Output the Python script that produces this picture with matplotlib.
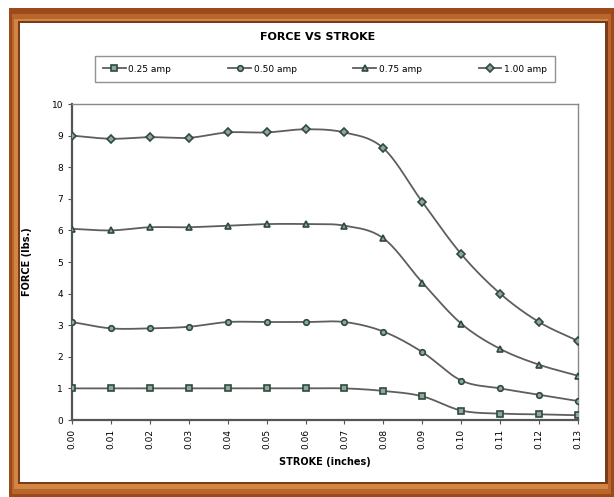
import numpy as np
import matplotlib
matplotlib.use("Agg")
import matplotlib.pyplot as plt
from matplotlib.patches import Rectangle

stroke = [0.00, 0.01, 0.02, 0.03, 0.04, 0.05, 0.06, 0.07, 0.08, 0.09, 0.10, 0.11, 0.12, 0.13]
amp_025 = [1.0, 1.0, 1.0, 1.0, 1.0, 1.0, 1.0, 1.0, 0.92, 0.75, 0.3, 0.2, 0.18, 0.15]
amp_050 = [3.1, 2.9, 2.9, 2.95, 3.1, 3.1, 3.1, 3.1, 2.8, 2.15, 1.25, 1.0, 0.8, 0.6]
amp_075 = [6.05, 6.0, 6.1, 6.1, 6.15, 6.2, 6.2, 6.15, 5.75, 4.35, 3.05, 2.25, 1.75, 1.4]
amp_100 = [9.0, 8.9, 8.95, 8.93, 9.1, 9.1, 9.2, 9.1, 8.6, 6.9, 5.25, 4.0, 3.1, 2.5]
labels = ['0.25 amp', '0.50 amp', '0.75 amp', '1.00 amp']
markers = ['s', 'o', '^', 'D']


def smooth(x, y, n=20):
    # catmull-rom curve through the points, like excel's smoothed line
    x = np.asarray(x, float)
    y = np.asarray(y, float)
    px = np.concatenate(([2*x[0]-x[1]], x, [2*x[-1]-x[-2]]))
    py = np.concatenate(([2*y[0]-y[1]], y, [2*y[-1]-y[-2]]))
    xs, ys = [], []
    t = np.linspace(0, 1, n)
    for i in range(1, len(px)-2):
        for p, out in ((px, xs), (py, ys)):
            p0, p1, p2, p3 = p[i-1], p[i], p[i+1], p[i+2]
            out.extend(0.5*((2*p1) + (-p0+p2)*t + (2*p0-5*p1+4*p2-p3)*t**2
                            + (-p0+3*p1-3*p2+p3)*t**3))
    return np.array(xs), np.array(ys)


fig = plt.figure(figsize=(6.14, 4.97), dpi=100)
W, H = 614, 497

# brown picture frame
def frame(x, y, w, h, c):
    fig.patches.append(Rectangle((x/W, y/H), w/W, h/H, transform=fig.transFigure,
                                 facecolor=c, edgecolor='none', zorder=-10))

frame(9, 0, 605, 489, '#9c4a1c')
frame(12, 3, 599, 480, '#b8662c')
frame(14, 8, 594, 470, '#d38644')
frame(18, 13, 590, 463, '#7a3c18')
frame(20, 15, 585, 459, 'white')

ax = fig.add_axes([72/W, 1-420/H, (578-72)/W, (420-104)/H])
ax.set_zorder(1)
series = [amp_025, amp_050, amp_075, amp_100]
handles = []
for vals, lab, m in zip(series, labels, markers):
    ms = 3.6 if m == 'D' else 4
    sx, sy = smooth(stroke, vals)
    ax.plot(sx, sy, color='#5e5e5e', lw=1.3, zorder=2)
    ax.plot(stroke, vals, linestyle='none', marker=m, ms=ms,
            markerfacecolor='#8fa89b', markeredgecolor='#2f4a3c', mew=1.2, zorder=3)
    h, = ax.plot([], [], color='#5e5e5e', lw=1.3, marker=m, ms=ms,
                 markerfacecolor='#8fa89b', markeredgecolor='#2f4a3c', mew=1.2)
    handles.append(h)

ax.set_xlim(0, 0.13)
ax.set_ylim(0, 10)
ax.set_xticks(stroke)
ax.set_xticklabels(['%.2f' % s for s in stroke], rotation=90, fontsize=6.5)
ax.set_yticks(range(11))
ax.tick_params(axis='y', labelsize=6.5, direction='out', length=3, color='#555')
ax.tick_params(axis='x', direction='out', length=3, color='#555')
for s in ['left', 'bottom']:
    ax.spines[s].set_color('#555555')
    ax.spines[s].set_linewidth(1.6)
for s in ['top', 'right']:
    ax.spines[s].set_color('#888888')
    ax.spines[s].set_linewidth(1.0)
ax.set_xlabel('STROKE (inches)', fontsize=7, fontweight='bold', labelpad=6)
ax.set_ylabel('FORCE (lbs.)', fontsize=7, fontweight='bold', labelpad=14)

fig.text(318/W, 1-37/H, 'FORCE VS STROKE', ha='center', va='center',
         fontsize=8, fontweight='bold')
leg = fig.legend(handles, labels, loc='center', bbox_to_anchor=(325/W, 1-69/H),
                 ncol=4, fontsize=6.5, frameon=True, fancybox=False,
                 edgecolor='#777777', handlelength=2.5, handletextpad=0.3,
                 columnspacing=6.3, borderpad=0.9)
leg.get_frame().set_linewidth(1.0)
leg.set_zorder(2)

plt.savefig('out.png', dpi=100)
